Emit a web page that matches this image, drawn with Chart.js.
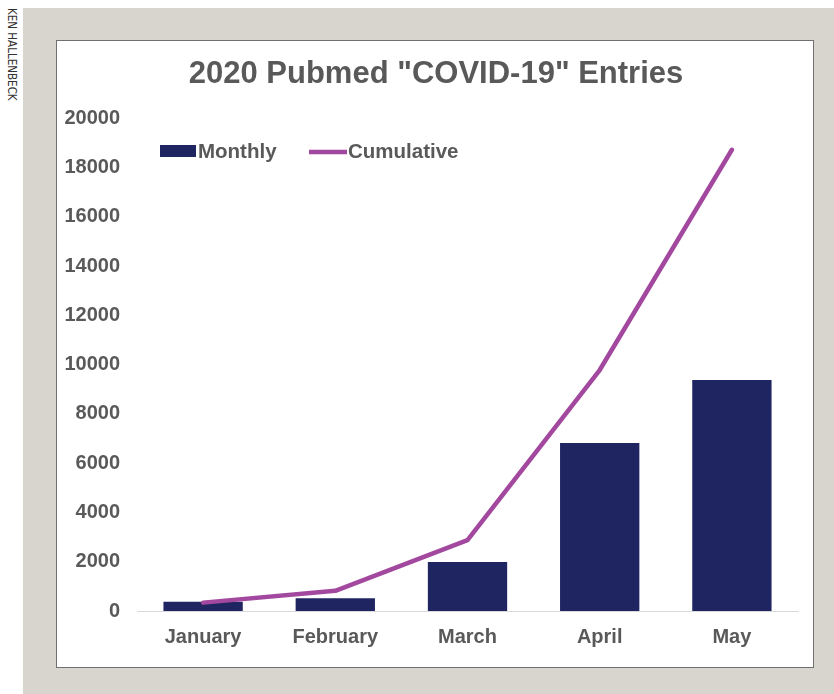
<!DOCTYPE html>
<html>
<head>
<meta charset="utf-8">
<script src="https://cdn.jsdelivr.net/npm/chart.js@4.4.1/dist/chart.umd.min.js"></script>
<style>
  html, body { margin:0; padding:0; width:834px; height:694px; overflow:hidden; background:#fff; }
  #bg { position:absolute; left:23px; top:8px; width:811px; height:686px; background:#d8d4ce; }
  #panel { position:absolute; left:56px; top:40px; width:758px; height:628px; box-sizing:border-box; background:#fff; border:1px solid #6f6f6f; }
  #credit { position:absolute; left:5px; top:8px; writing-mode:vertical-rl; font-family:"Liberation Sans Narrow","DejaVu Sans Condensed","Liberation Sans",sans-serif; font-size:11.5px; color:#333; line-height:14px; white-space:nowrap; }
  #c { position:absolute; left:0; top:0; }
</style>
</head>
<body>
<div id="bg"></div>
<div id="panel"></div>
<div id="credit">KEN HALLENBECK</div>
<canvas id="c" width="834" height="694"></canvas>
<script>
const titleText = '2020 Pubmed "COVID-19" Entries';
const months = ['January', 'February', 'March', 'April', 'May'];
const monthly = [380, 520, 1990, 6820, 9370];
const cumulative = [340, 820, 2880, 9780, 18720];
const yTicks = [0, 2000, 4000, 6000, 8000, 10000, 12000, 14000, 16000, 18000, 20000];

const BAR_COLOR = '#1f2560';
const LINE_COLOR = '#a3489f';
const TEXT_COLOR = '#595959';
const FONT = '"Liberation Sans", Arial, sans-serif';

const titleShift = {
  id: 'titleShift',
  afterLayout(chart) {
    if (chart.titleBlock) {
      chart.titleBlock.left += 8.5;
      chart.titleBlock.right += 8.5;
    }
  }
};

const legendPlugin = {
  id: 'customLegend',
  afterDraw(chart) {
    const ctx = chart.ctx;
    const ds = chart.data.datasets;
    ctx.save();
    ctx.font = 'bold 20.5px ' + FONT;
    ctx.textBaseline = 'middle';
    ctx.textAlign = 'left';
    ctx.fillStyle = ds[0].backgroundColor;
    ctx.fillRect(160, 145, 36, 12);
    ctx.fillStyle = TEXT_COLOR;
    ctx.fillText(ds[0].label, 198, 152);
    ctx.strokeStyle = ds[1].borderColor;
    ctx.lineWidth = 4.5;
    ctx.lineCap = 'butt';
    ctx.beginPath();
    ctx.moveTo(309, 152);
    ctx.lineTo(347, 152);
    ctx.stroke();
    ctx.fillText(ds[1].label, 348, 152);
    ctx.restore();
  }
};

new Chart(document.getElementById('c'), {
  data: {
    labels: months,
    datasets: [
      {
        type: 'bar',
        label: 'Monthly',
        data: monthly,
        backgroundColor: BAR_COLOR,
        barPercentage: 0.6,
        categoryPercentage: 1.0,
        order: 2
      },
      {
        type: 'line',
        label: 'Cumulative',
        data: cumulative,
        borderColor: LINE_COLOR,
        backgroundColor: LINE_COLOR,
        borderWidth: 4.5,
        borderCapStyle: 'round',
        borderJoinStyle: 'round',
        pointRadius: 0,
        tension: 0,
        fill: false,
        order: 1
      }
    ]
  },
  options: {
    responsive: false,
    animation: false,
    devicePixelRatio: 1,
    layout: { padding: { left: 57, right: 36, top: 0, bottom: 43 } },
    plugins: {
      legend: { display: false },
      tooltip: { enabled: false },
      title: {
        display: true,
        text: titleText,
        color: TEXT_COLOR,
        font: { family: FONT, size: 31, weight: 'bold', lineHeight: 1.2 },
        padding: { top: 56, bottom: 25 }
      }
    },
    scales: {
      x: {
        grid: { display: false, drawTicks: false },
        border: { display: true, color: '#d9d9d9', width: 1 },
        ticks: { color: TEXT_COLOR, padding: 14, font: { family: FONT, size: 20, weight: 'bold' } },
        afterFit(scale) { scale.height = 40; }
      },
      y: {
        min: 0,
        max: 20000,
        grid: { display: false, drawTicks: false },
        border: { display: false },
        afterBuildTicks(scale) { scale.ticks = yTicks.map(v => ({ value: v })); },
        ticks: {
          color: TEXT_COLOR,
          padding: 17,
          font: { family: FONT, size: 20, weight: 'bold' },
          callback: (v) => String(v)
        },
        afterFit(scale) { scale.width = 80; }
      }
    }
  },
  plugins: [titleShift, legendPlugin]
});
</script>
</body>
</html>
